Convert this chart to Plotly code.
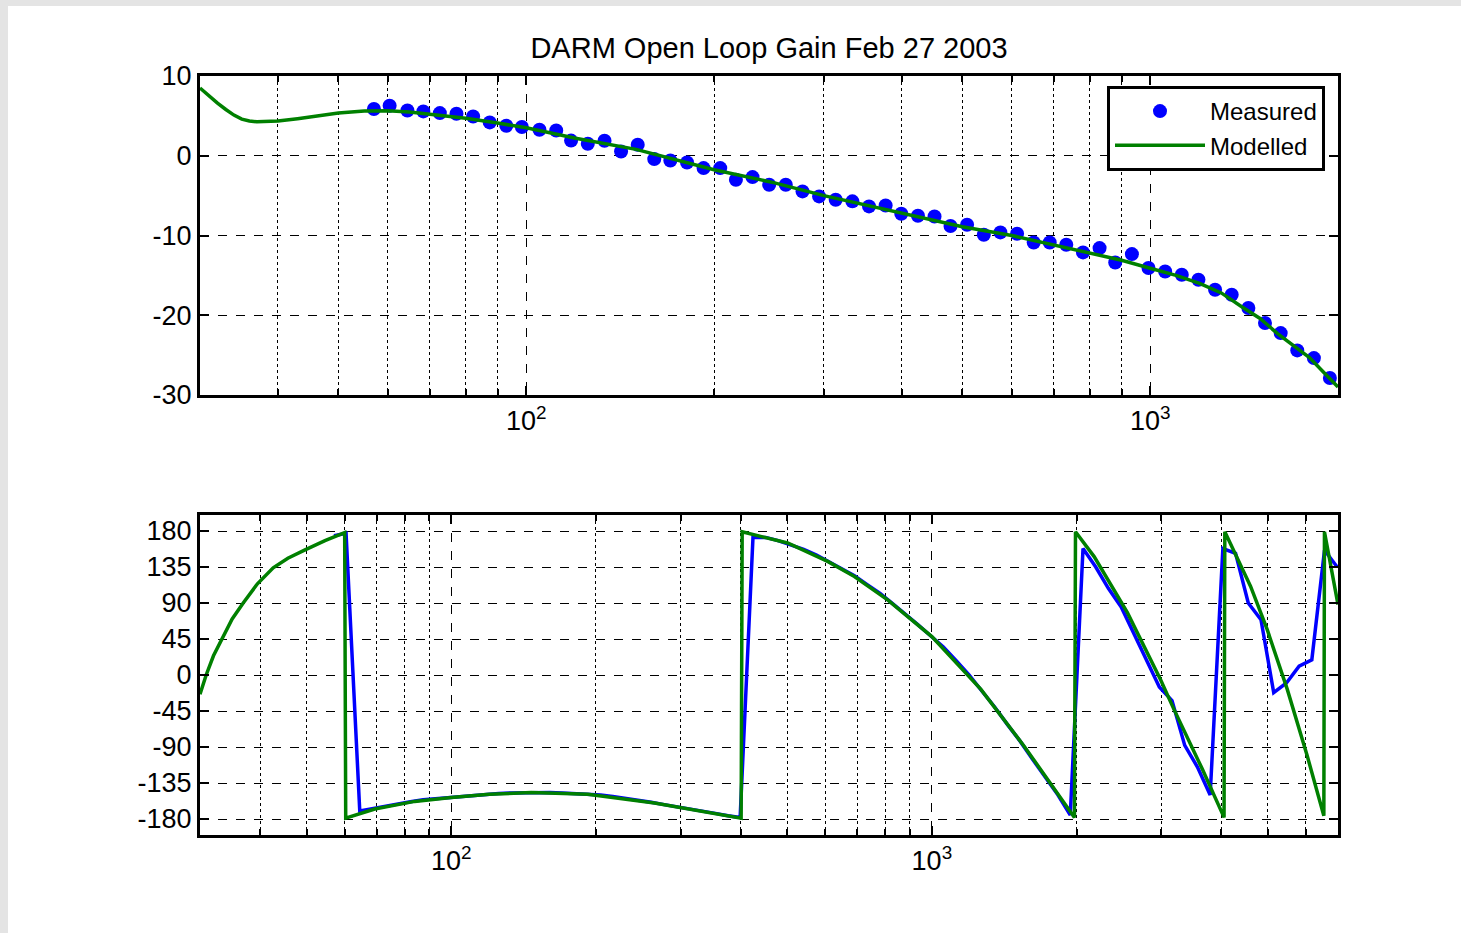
import math
import plotly.graph_objects as go

# ---------------- data ----------------
meas_freq = [57.0, 60.4, 64.5, 68.4, 72.7, 77.3, 82.2, 87.4, 92.9, 98.4,
             105.0, 111.7, 118.0, 125.5, 133.5, 141.9, 150.9, 160.4, 170.2, 181.0,
             192.4, 204.6, 216.8, 230.5, 245.1, 260.6, 277.2, 294.7, 313.3, 333.2,
             354.3, 376.7, 399.1, 424.4, 451.2, 478.6, 508.8, 541.2, 575.4, 611.9,
             650.6, 690.2, 733.7, 780.4, 829.7, 879.0, 934.8, 993.8, 1056.8, 1123.7,
             1194.9, 1270.6, 1351.0, 1436.7, 1527.6, 1618.6, 1720.8, 1829.8, 1941.0,
             2063, 2193, 2331, 2477, 2633, 2798, 2974, 3160, 3359, 3570,
             3794, 4032, 4285, 4554, 4840, 5144, 5467, 5810, 6175, 6562, 6974]

meas_mag = [5.86, 6.27, 5.68, 5.56, 5.35, 5.27, 4.93, 4.18, 3.76, 3.6,
            3.26, 3.17, 1.9, 1.5, 1.88, 0.54, 1.38, -0.42, -0.59, -0.84,
            -1.55, -1.55, -3.01, -2.68, -3.64, -3.64, -4.47, -5.1, -5.52, -5.72,
            -6.35, -6.23, -7.27, -7.52, -7.61, -8.8, -8.65, -9.91, -9.61, -9.78,
            -10.87, -10.87, -11.16, -12.12, -11.58, -13.38, -12.33, -14.08, -14.51, -14.92,
            -15.55, -16.8, -17.43, -19.1, -20.98, -22.24, -24.41, -25.37, -27.87]

meas_phase = [174, 177, -170, -167, -164, -161, -158.5, -156, -154.5, -153,
              -151.5, -150, -149, -148, -147.5, -147, -147, -147, -147.5, -148,
              -149, -150, -152, -154, -157, -159, -162, -164.5, -167, -170,
              -173, -176, -178, 172, 172, 168, 163, 157, 150, 141,
              133, 124, 113, 102, 89, 77, 63, 49, 35, 18,
              0, -20, -40, -62, -83, -105, -128, -150, -175,
              158, 135, 108, 85, 52, 18, -15, -32, -88, -115,
              -150, 158, 152, 90, 69, -22, -10, 11, 19, 156, 135]

model_mag_freq = [30, 31, 32, 33, 34, 35, 36, 37, 38, 40, 43, 46, 50, 55, 60, 65, 70,
                  80, 90, 100, 120, 150, 200, 250, 300, 400, 500, 600, 700, 800, 900,
                  1000, 1100, 1200, 1300, 1400, 1500, 1600, 1700, 1800, 1900, 2000]
model_mag = [8.5, 7.5, 6.6, 5.8, 5.1, 4.6, 4.35, 4.25, 4.25, 4.35, 4.65, 5.0, 5.35, 5.6,
             5.65, 5.5, 5.25, 4.7, 4.1, 3.5, 2.2, 0.8, -1.75, -3.4, -5.0, -7.2, -8.9,
             -10.0, -11.2, -12.2, -13.1, -14.1, -15.0, -16.0, -17.2, -18.9, -20.4,
             -22.3, -23.8, -25.3, -27.2, -29.0]

model_ph_freq = [30, 30.9, 32, 33.3, 35, 36.9, 39.5, 42.6, 45.7, 49.5, 54.6, 60, 60.3,
                 69.3, 83.9, 100, 120, 146.7, 192.3, 264.7, 330, 401, 403, 501, 607, 690,
                 809, 1000, 1265, 1556, 1980, 1990, 2176, 2552, 2992, 3190, 3650, 4055,
                 4070, 4603, 4985, 5490, 6040, 6541, 6560, 7000]
model_phase = [-24, 0, 24, 45, 70, 90, 114, 134, 146, 156, 168, 178, -179,
               -167.5, -158, -153, -149, -147, -149, -160, -170, -179, 179, 165, 142, 123,
               94, 48, -18, -89, -178, 179, 148, 78, -6, -43, -117, -178,
               179, 111, 57, -18, -101, -176, 179, 88]

mag_ticks = [-30, -20, -10, 0, 10]
mag_labels = ["-30", "-20", "-10", "0", "10"]
phase_ticks = [-180, -135, -90, -45, 0, 45, 90, 135, 180]
phase_labels = ["-180", "-135", "-90", "-45", "0", "45", "90", "135", "180"]
decade_ticks = [100, 1000]
decade_labels = ["10<sup>2</sup>", "10<sup>3</sup>"]
minor_top = [40, 50, 60, 70, 80, 90, 200, 300, 400, 500, 600, 700, 800, 900]
minor_bot = minor_top + [2000, 3000, 4000, 5000, 6000]

# ---------------- figure ----------------
W, H = 1461, 933
BLUE = "#0000ff"
GREEN = "#008000"
FONT = "Liberation Sans, Arial, sans-serif"

fig = go.Figure()

fig.add_trace(go.Scatter(x=meas_freq[:len(meas_mag)], y=meas_mag, mode="markers",
                         name="Measured", marker=dict(color=BLUE, size=14),
                         xaxis="x", yaxis="y"))
fig.add_trace(go.Scatter(x=model_mag_freq, y=model_mag, mode="lines", name="Modelled",
                         line=dict(color=GREEN, width=3.5), xaxis="x", yaxis="y"))
fig.add_trace(go.Scatter(x=meas_freq, y=meas_phase, mode="lines", showlegend=False,
                         line=dict(color=BLUE, width=3.5), xaxis="x2", yaxis="y2"))
fig.add_trace(go.Scatter(x=model_ph_freq, y=model_phase, mode="lines", showlegend=False,
                         line=dict(color=GREEN, width=3.5), xaxis="x2", yaxis="y2"))

xdom = [200 / W, 1338 / W]
top_dom = [(H - 395) / H, (H - 76) / H]
bot_dom = [(H - 835) / H, (H - 515) / H]

common = dict(showline=True, linewidth=3, linecolor="black", mirror="allticks",
              ticks="inside", ticklen=9, tickwidth=2, tickcolor="black",
              showgrid=True, gridcolor="black", gridwidth=1.3, griddash="dash",
              zeroline=False, automargin=False,
              tickfont=dict(family=FONT, size=27, color="black"))

def minor_cfg(vals):
    return dict(tickmode="array", tickvals=vals, ticks="inside", ticklen=6,
                tickwidth=2, tickcolor="black", showgrid=True, gridcolor="black",
                gridwidth=1, griddash="dot")

fig.update_layout(
    width=W, height=H, autosize=False,
    margin=dict(l=0, r=0, t=0, b=0, pad=0),
    paper_bgcolor="#e4e4e4",
    plot_bgcolor="white",
    font=dict(family=FONT, size=24, color="black"),
    title=dict(text="DARM Open Loop Gain Feb 27 2003", x=769 / W, xanchor="center",
               y=(H - 48) / H, yanchor="middle", automargin=False,
               font=dict(family=FONT, size=29, color="black")),
    xaxis=dict(type="log", domain=xdom, anchor="y",
               range=[math.log10(30), math.log10(2000)],
               tickmode="array", tickvals=decade_ticks, ticktext=decade_labels,
               minor=minor_cfg(minor_top), **common),
    yaxis=dict(domain=top_dom, anchor="x", range=[-30, 10],
               tickmode="array", tickvals=mag_ticks, ticktext=mag_labels, **common),
    xaxis2=dict(type="log", domain=xdom, anchor="y2",
                range=[math.log10(30), math.log10(7000)],
                tickmode="array", tickvals=decade_ticks, ticktext=decade_labels,
                minor=minor_cfg(minor_bot), **common),
    yaxis2=dict(domain=bot_dom, anchor="x2", range=[-200, 200],
                tickmode="array", tickvals=phase_ticks, ticktext=phase_labels, **common),
    legend=dict(x=1325 / W, xanchor="right", y=(H - 86) / H, yanchor="top",
                bgcolor="white", bordercolor="black", borderwidth=3,
                font=dict(family=FONT, size=24, color="black"),
                itemwidth=90, tracegroupgap=0),
    shapes=[dict(type="rect", xref="paper", yref="paper", x0=8 / W, x1=1,
                 y0=0, y1=(H - 6) / H, fillcolor="white", line=dict(width=0),
                 layer="below")],
)

post = ("document.body.style.margin='0';document.body.style.padding='0';"
        "document.body.style.overflow='hidden';"
        "document.documentElement.style.overflow='hidden';")

fig.write_html("out.html", config={"responsive": False, "displayModeBar": False},
               post_script=post)
